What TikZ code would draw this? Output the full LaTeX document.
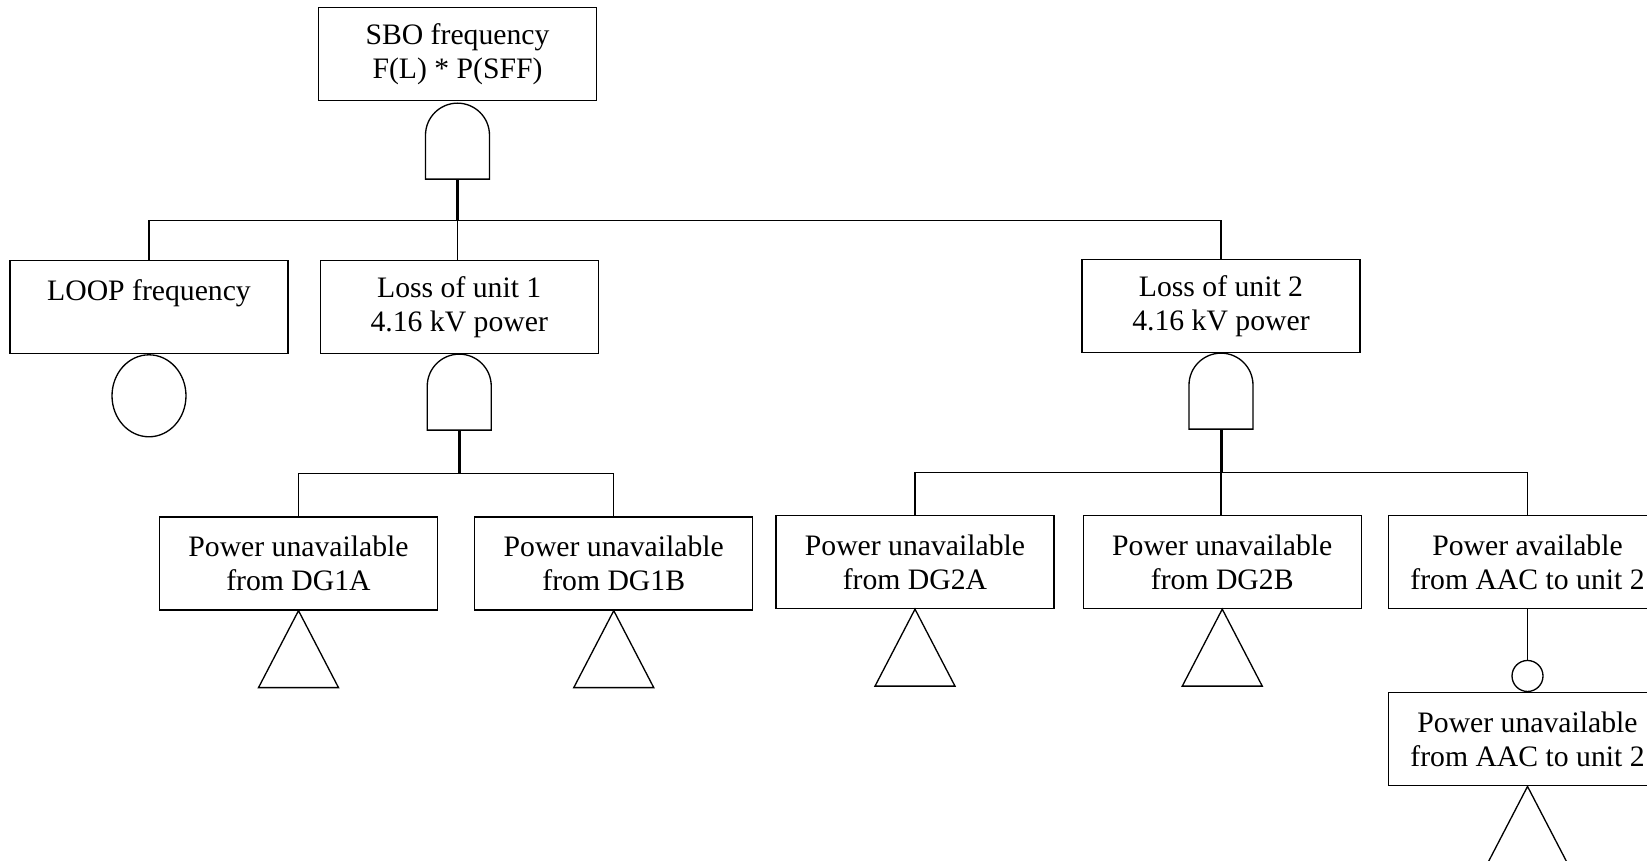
\documentclass[tikz,border=0pt]{standalone}
\usepackage{fontspec}
\setmainfont{Liberation Serif}
\usetikzlibrary{positioning,calc,shapes.geometric}

\tikzset{
    andgate/.pic={
        \draw[line width=0.75pt] (-32,0) -- (-32,44) arc[start angle=180,end angle=0,radius=0.64cm] -- (32,0) -- cycle;
        \coordinate (-out) at (0,0);
    }
}

\begin{document}
\begin{tikzpicture}[x=0.02cm,y=0.02cm,
        event/.style={rectangle,draw,line width=0.75pt,minimum width=5.56cm,minimum height=1.86cm,inner sep=0pt,align=center,font=\fontsize{16.9}{19.2}\selectfont},
        link/.style={line width=0.6pt},
        stem/.style={line width=1.7pt},
        basic/.style={draw,line width=0.75pt}]
        \useasboundingbox (0,0) rectangle (1647,-861);

        \node[event] (top) at (457.5,-54) {SBO frequency\\F(L) * P(SFF)};
        \node[event] (loop) at (149,-307) {LOOP frequency\\~};
        \node[event] (u1) [right=0.62cm of loop] {Loss of unit 1\\4.16 kV power};
        \node[event] (u2) at (1221,-306) {Loss of unit 2\\4.16 kV power};
        \node[event] (dg1a) at (298.5,-563.5) {Power unavailable\\from DG1A};
        \node[event] (dg1b) [right=0.72cm of dg1a] {Power unavailable\\from DG1B};
        \node[event] (dg2a) at (915,-562) {Power unavailable\\from DG2A};
        \node[event] (dg2b) [right=0.56cm of dg2a] {Power unavailable\\from DG2B};
        \node[event] (aac) [right=0.52cm of dg2b] {Power available\\from AAC to unit 2};
        \node[event] (aac2) [below=1.66cm of aac] {Power unavailable\\from AAC to unit 2};

        \node[ellipse,basic,minimum width=1.48cm,minimum height=1.64cm,inner sep=0pt] (loopc) [below=0pt of loop] {};
        \node[circle,basic,minimum size=0.62cm,inner sep=0pt] (inh) [above=0pt of aac2] {};

        \pic (g0) at ($(top.south)+(0,-78)$) {andgate};
        \pic (g1) at ($(u1.south)+(0,-76)$) {andgate};
        \pic (g2) at ($(u2.south)+(0,-76)$) {andgate};

        \coordinate (b0) at ($(g0-out)+(0,-41.5)$);
        \coordinate (b1) at ($(g1-out)+(0,-43)$);
        \coordinate (b2) at ($(g2-out)+(0,-43.5)$);

        \draw[stem] (g0-out) -- (b0);
        \draw[stem] (g1-out) -- (b1);
        \draw[stem] (g2-out) -- (b2);

        \draw[link] (loop.north) |- (b0) -| (u2.north);
        \draw[link] (b0) -- (b0 |- u1.north);
        \draw[link] (dg1a.north) |- (b1) -| (dg1b.north);
        \draw[link] (dg2a.north) |- (b2) -| (aac.north);
        \draw[link] (b2) -- (b2 |- dg2b.north);
        \draw[link] (aac.south) -- (inh.north);

        \draw[basic] (dg1a.south) -- ++(-40,-77) -- ++(80,0) -- cycle;
        \draw[basic] (dg1b.south) -- ++(-40,-77) -- ++(80,0) -- cycle;
        \draw[basic] (dg2a.south) -- ++(-40,-77) -- ++(80,0) -- cycle;
        \draw[basic] (dg2b.south) -- ++(-40,-77) -- ++(80,0) -- cycle;
        \draw[basic] (aac2.south) -- ++(-40,-77) -- ++(80,0) -- cycle;
\end{tikzpicture}
\end{document}
